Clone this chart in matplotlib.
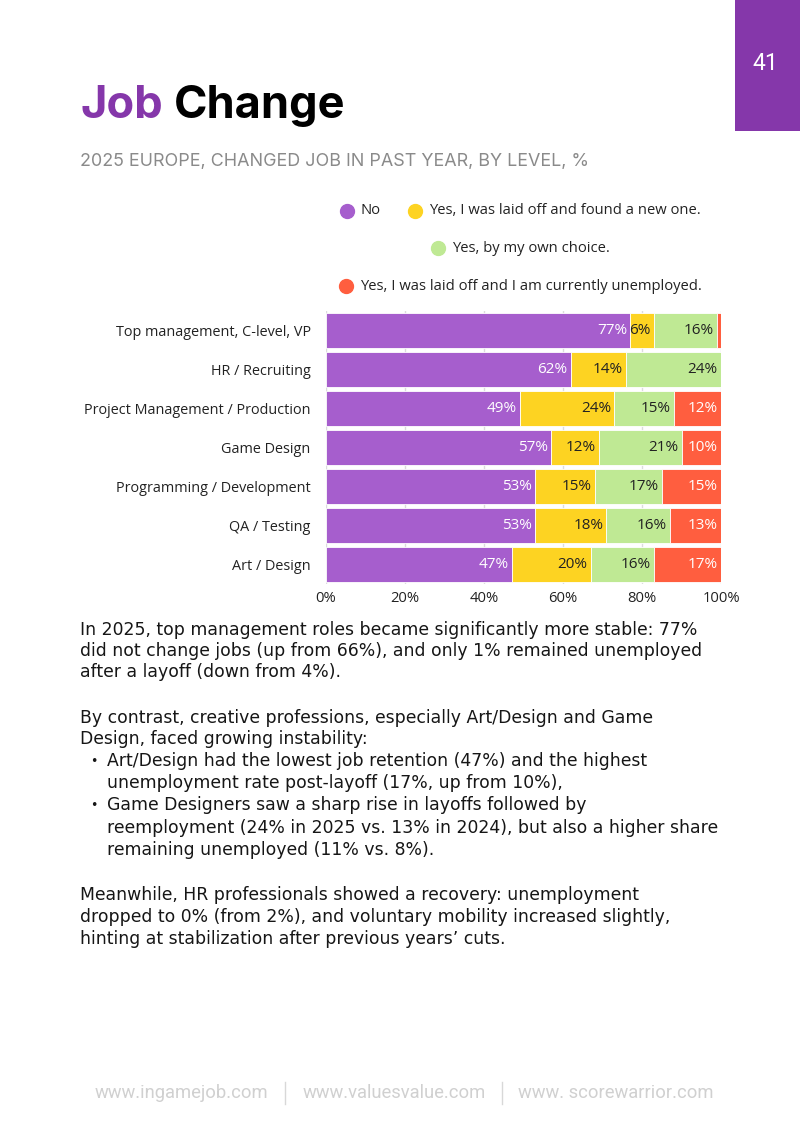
import matplotlib
matplotlib.use('Agg')
import matplotlib.pyplot as plt
from matplotlib.lines import Line2D
from matplotlib.patches import Rectangle

# Data
categories = ['Top management, C-level, VP', 'HR / Recruiting', 'Project Management / Production',
              'Game Design', 'Programming / Development', 'QA / Testing', 'Art / Design']
no_change = [77, 62, 49, 57, 53, 53, 47]
laid_off_new = [6, 14, 24, 12, 15, 18, 20]
own_choice = [16, 24, 15, 21, 17, 16, 16]
unemployed = [1, 0, 12, 10, 15, 13, 17]
series_names = ['No', 'Yes, I was laid off and found a new one.', 'Yes, by my own choice.',
                'Yes, I was laid off and I am currently unemployed.']
tick_labels = ['0%', '20%', '40%', '60%', '80%', '100%']

colors = ['#A65ECD', '#FDD322', '#BFE994', '#FF5E3F']
text_colors = ['white', '#222222', '#222222', 'white']

W, H = 800, 1131
fig = plt.figure(figsize=(8, 11.31), dpi=100)

def fx(x):
    return x / W

def fy(y):
    return 1 - y / H

# page number tab
fig.patches.append(Rectangle((fx(735), fy(131)), fx(65), 131 / H, transform=fig.transFigure,
                             facecolor='#8537AA', edgecolor='none'))
fig.text(fx(765), fy(64), '41', color='white', fontsize=16.5, family='Roboto',
         ha='center', va='center')

# title
t = fig.text(fx(80), fy(118), 'Job', color='#8537AA', fontsize=32.5, family='Inter', weight='bold',
             ha='left', va='baseline')
fig.canvas.draw()
bb = t.get_window_extent()
fig.text(bb.x1 / W + fx(11), fy(118), 'Change', color='black', fontsize=32.5, family='Inter',
         weight='bold', ha='left', va='baseline')
fig.text(fx(80), fy(166), '2025 EUROPE, CHANGED JOB IN PAST YEAR, BY LEVEL, %', color='#8a8a8a',
         fontsize=12.9, family='Inter', ha='left', va='baseline')

# legend drawn by hand to keep the original arrangement
legend_pos = [(347, 211), (415, 211), (438, 248), (346, 286)]
for (x, y), c, name in zip(legend_pos, colors, series_names):
    fig.add_artist(Line2D([fx(x)], [fy(y)], marker='o', markersize=10, color=c,
                          transform=fig.transFigure, linestyle='none'))
    fig.text(fx(x + 14), fy(y), name, fontsize=10.6, family='Open Sans', color='#222222',
             ha='left', va='center')

# chart
ax = fig.add_axes([fx(326), fy(584), fx(395), 273 / H])
left = [0] * len(categories)
for vals, c, tc in zip([no_change, laid_off_new, own_choice, unemployed], colors, text_colors):
    ax.barh(range(len(categories)), vals, left=left, color=c, height=0.9, edgecolor='white',
            linewidth=0.6, zorder=2)
    for i, v in enumerate(vals):
        if v >= 5:
            ax.text(left[i] + v - 0.8, i, f'{v}%', color=tc, fontsize=11, family='Open Sans',
                    ha='right', va='center', zorder=3)
    left = [a + b for a, b in zip(left, vals)]

ax.set_xlim(0, 100)
ax.set_ylim(len(categories) - 0.5, -0.5)
ax.set_yticks(range(len(categories)))
ax.set_yticklabels(categories, family='Open Sans', fontsize=10.4, color='#222222')
ax.set_xticks([0, 20, 40, 60, 80, 100])
ax.set_xticklabels(tick_labels, family='Open Sans', fontsize=10.6, color='#222222')
ax.tick_params(length=0, pad=11)
ax.tick_params(axis='x', pad=5)
ax.grid(axis='x', color='#dcdcdc', linewidth=1, zorder=0)
for s in ax.spines.values():
    s.set_visible(False)

# body text
body = [
    (80, 630, 'In 2025, top management roles became significantly more stable: 77%'),
    (80, 651, 'did not change jobs (up from 66%), and only 1% remained unemployed'),
    (80, 672, 'after a layoff (down from 4%).'),
    (80, 718, 'By contrast, creative professions, especially Art/Design and Game'),
    (80, 739, 'Design, faced growing instability:'),
    (107, 761, 'Art/Design had the lowest job retention (47%) and the highest'),
    (107, 783, 'unemployment rate post-layoff (17%, up from 10%),'),
    (107, 805, 'Game Designers saw a sharp rise in layoffs followed by'),
    (107, 828, 'reemployment (24% in 2025 vs. 13% in 2024), but also a higher share'),
    (107, 850, 'remaining unemployed (11% vs. 8%).'),
    (80, 895, 'Meanwhile, HR professionals showed a recovery: unemployment'),
    (80, 917, 'dropped to 0% (from 2%), and voluntary mobility increased slightly,'),
    (80, 939, 'hinting at stabilization after previous years\u2019 cuts.'),
]
for x, y, s in body:
    fig.text(fx(x), fy(y), s, fontsize=12.4, family='DejaVu Sans', color='#161616',
             ha='left', va='center')
for y in (761, 805):
    fig.text(fx(90), fy(y + 1), '\u2022', fontsize=9, family='DejaVu Sans', color='#161616',
             ha='left', va='center')

# footer
footer = [(181, 'www.ingamejob.com'), (394, 'www.valuesvalue.com'), (616, 'www. scorewarrior.com')]
for x, s in footer:
    fig.text(fx(x), fy(1093), s, fontsize=13.2, family='Roboto', color='#d0d0d0',
             ha='center', va='center')
for x in (285, 502):
    fig.add_artist(Line2D([fx(x), fx(x)], [fy(1082), fy(1104)], color='#d8d8d8', linewidth=1,
                          transform=fig.transFigure))

fig.savefig('out.png', dpi=100)
plt.close()
